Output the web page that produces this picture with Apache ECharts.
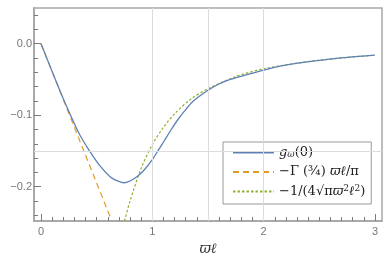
<!DOCTYPE html>
<html>
<head>
<meta charset="utf-8">
<script src="https://cdn.jsdelivr.net/npm/echarts@6/dist/echarts.min.js"></script>
<style>
  html, body { margin: 0; padding: 0; background: #fff; }
  #chart { width: 391px; height: 264px; }
</style>
</head>
<body>
<div id="chart"></div>
<script>
// values
var gOmega = [
    [0, 0], [0.1, -0.039], [0.2, -0.077], [0.3, -0.112], [0.35, -0.128],
    [0.44, -0.151], [0.53, -0.171], [0.62, -0.186], [0.68, -0.1915],
    [0.74, -0.1945], [0.8, -0.192], [0.87, -0.185], [0.93, -0.176],
    [1.0, -0.162], [1.05, -0.150], [1.11, -0.135], [1.17, -0.120],
    [1.23, -0.106], [1.29, -0.094], [1.35, -0.083], [1.41, -0.075],
    [1.5, -0.065], [1.59, -0.057], [1.7, -0.050], [1.86, -0.043],
    [2.0, -0.037], [2.16, -0.031], [2.46, -0.024], [2.75, -0.019], [3.0, -0.016]
];
var smallX = [[0, 0], [0.636, -0.248]];
var largeX = [
    [0.75, -0.248], [0.8, -0.22], [0.9, -0.174], [1.0, -0.141], [1.1, -0.117],
    [1.2, -0.098], [1.35, -0.077], [1.5, -0.063], [1.75, -0.046], [2.0, -0.035],
    [2.5, -0.023], [3.0, -0.016]
];
var seriesNames = ['g', 'gamma', 'inv'];

var xMajor = [0, 1, 2, 3];
var yMajor = [0, -0.1, -0.2];
var xGrid = [1, 1.5, 2];
var yGrid = [-0.15];

var xMinor = [];
for (var i = 1; i < 31; i++) { if (i % 10 !== 0) xMinor.push(i / 10); }
var yMinor = [];
for (var j = -12; j <= 2; j++) { if (j % 5 !== 0) yMinor.push(j / 50); }

var XMIN = -0.063, XMAX = 3.063, YMIN = -0.248, YMAX = 0.05;
var frameColor = '#a8a8a8';
var tickColor = '#7a7a7a';

var chart = echarts.init(document.getElementById('chart'));

function tickLabel(labels, fmt) {
    return function (v) { return labels ? fmt(v) : ' '; };
}
function xAxisBase(ticks, len, labels) {
    return {
        type: 'value', min: XMIN, max: XMAX, position: 'bottom',
        axisLine: { show: true, onZero: false, lineStyle: { color: frameColor, width: 1.5 } },
        splitLine: { show: false },
        axisTick: { show: true, inside: true, length: len, customValues: ticks,
            lineStyle: { color: tickColor, width: 1 } },
        axisLabel: { show: true, customValues: ticks, margin: 5,
            color: '#777', fontSize: 11, fontFamily: 'Liberation Sans',
            formatter: tickLabel(labels, function (v) { return String(v); }) }
    };
}
function yAxisBase(ticks, len, labels) {
    return {
        type: 'value', min: YMIN, max: YMAX, position: 'left',
        axisLine: { show: true, onZero: false, lineStyle: { color: frameColor, width: 1.5 } },
        splitLine: { show: false },
        axisTick: { show: true, inside: true, length: len, customValues: ticks,
            lineStyle: { color: tickColor, width: 1 } },
        axisLabel: { show: true, customValues: ticks, margin: 2,
            color: '#777', fontSize: 11, fontFamily: 'Liberation Sans',
            formatter: tickLabel(labels, function (v) {
                if (Math.abs(v) < 1e-9) return '0.0';
                return (v < 0 ? '\u2212' : '') + Math.abs(v).toFixed(1);
            }) }
    };
}

var xName = xAxisBase(xMajor, 7, true);
xName.name = 'ϖℓ';
xName.nameLocation = 'middle';
xName.nameGap = 17;
xName.nameTextStyle = { fontFamily: 'DejaVu Serif', fontStyle: 'italic', fontSize: 14, color: '#333' };

var option = {
    backgroundColor: '#fff',
    animation: false,
    grid: {
        left: 34, right: 9, top: 8, bottom: 43,
        show: true, borderColor: frameColor, borderWidth: 1.5, backgroundColor: 'transparent'
    },
    xAxis: [xName, xAxisBase(xMinor, 4, false)],
    yAxis: [yAxisBase(yMajor, 7, true), yAxisBase(yMinor, 4, false)],
    legend: {
        orient: 'vertical',
        left: 223, top: 142,
        padding: [4, 6, 6, 9],
        itemWidth: 41, itemHeight: 14, itemGap: 6,
        backgroundColor: '#fff',
        borderColor: '#999', borderWidth: 1, borderRadius: 0,
        itemStyle: { opacity: 0 },
        data: seriesNames,
        formatter: function (name) {
            if (name === 'g') return '{i|g}{sub|ω}{n|(0)}';
            if (name === 'gamma') return '{n|\u2212Γ (¾) }{i|ϖℓ}{n|/π}';
            return '{n|\u22121/(4√π}{i|ϖ}{sup|2}{i|ℓ}{sup|2}{n|)}';
        },
        textStyle: {
            rich: {
                n: { fontFamily: 'DejaVu Serif', fontSize: 13, color: '#222', lineHeight: 14 },
                i: { fontFamily: 'DejaVu Serif', fontStyle: 'italic', fontSize: 13, color: '#222', lineHeight: 14 },
                sub: { fontFamily: 'DejaVu Serif', fontStyle: 'italic', fontSize: 9, color: '#222', verticalAlign: 'bottom', lineHeight: 8 },
                sup: { fontFamily: 'DejaVu Serif', fontSize: 9, color: '#222', verticalAlign: 'top', lineHeight: 8 }
            }
        }
    },
    series: [{
        name: 'g', type: 'line', data: gOmega, smooth: 0.3, symbol: 'none',
        z: 4,
        lineStyle: { color: '#5e81b5', width: 1.3 },
        itemStyle: { color: '#5e81b5' },
        markLine: {
            silent: true, symbol: 'none', label: { show: false },
            lineStyle: { color: '#dcdcdc', width: 1, type: 'solid' },
            data: xGrid.map(function (v) { return { xAxis: v }; })
                .concat(yGrid.map(function (v) { return { yAxis: v }; }))
        }
    }, {
        name: 'gamma', type: 'line', data: smallX, symbol: 'none',
        z: 3,
        lineStyle: { color: '#e19c24', width: 1.2, type: [6, 4] },
        itemStyle: { color: '#e19c24' }
    }, {
        name: 'inv', type: 'line', data: largeX, smooth: 0.3, symbol: 'none',
        z: 3,
        lineStyle: { color: '#8fb032', width: 1.2, type: [2.5, 2] },
        itemStyle: { color: '#8fb032' }
    }]
};
chart.setOption(option);
</script>
</body>
</html>
